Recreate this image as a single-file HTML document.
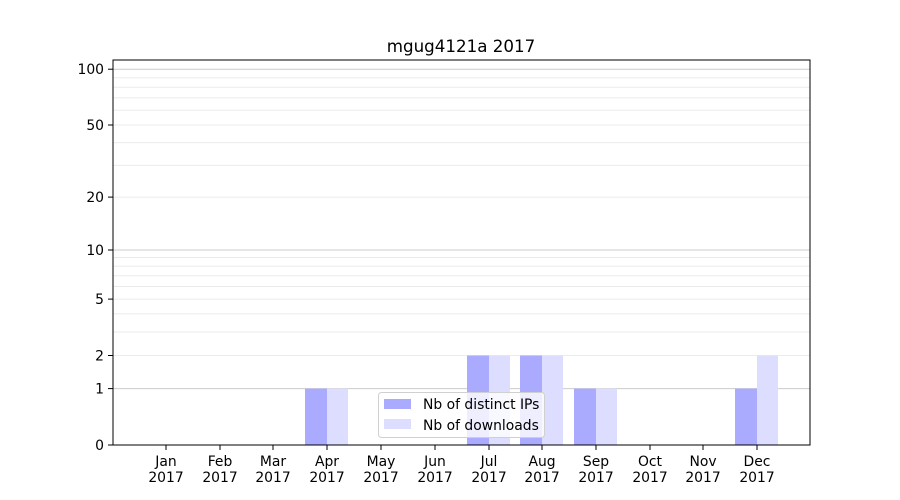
<!DOCTYPE html>
<html><head><style>body{margin:0;background:#fff}svg{display:block;font-family:"DejaVu Sans","Liberation Sans",sans-serif}</style></head>
<body>
<svg width="900" height="500" xmlns="http://www.w3.org/2000/svg">
<rect width="900" height="500" fill="#fff"/>
<g stroke="#ebebeb" stroke-width="1">
<line x1="113" x2="810" y1="355.5" y2="355.5"/><line x1="113" x2="810" y1="332" y2="332"/><line x1="113" x2="810" y1="313.9" y2="313.9"/><line x1="113" x2="810" y1="299.1" y2="299.1"/><line x1="113" x2="810" y1="286.5" y2="286.5"/><line x1="113" x2="810" y1="275.7" y2="275.7"/><line x1="113" x2="810" y1="266.1" y2="266.1"/><line x1="113" x2="810" y1="257.5" y2="257.5"/>
<line x1="113" x2="810" y1="197.1" y2="197.1"/><line x1="113" x2="810" y1="165.4" y2="165.4"/><line x1="113" x2="810" y1="142.6" y2="142.6"/><line x1="113" x2="810" y1="125" y2="125"/><line x1="113" x2="810" y1="110.3" y2="110.3"/><line x1="113" x2="810" y1="97.9" y2="97.9"/><line x1="113" x2="810" y1="87.2" y2="87.2"/><line x1="113" x2="810" y1="77.7" y2="77.7"/>
</g>
<g stroke="#cccccc" stroke-width="1">
<line x1="113" x2="810" y1="388.6" y2="388.6"/><line x1="113" x2="810" y1="250" y2="250"/><line x1="113" x2="810" y1="69.2" y2="69.2"/>
</g>
<g>
<rect x="305" y="388.6" width="22" height="56.4" fill="#aaaaff"/><rect x="327" y="388.6" width="21" height="56.4" fill="#ddddff"/>
<rect x="467" y="355.5" width="22" height="89.5" fill="#aaaaff"/><rect x="489" y="355.5" width="21" height="89.5" fill="#ddddff"/>
<rect x="520" y="355.5" width="22" height="89.5" fill="#aaaaff"/><rect x="542" y="355.5" width="21" height="89.5" fill="#ddddff"/>
<rect x="574" y="388.6" width="22" height="56.4" fill="#aaaaff"/><rect x="596" y="388.6" width="21" height="56.4" fill="#ddddff"/>
<rect x="735" y="388.6" width="22" height="56.4" fill="#aaaaff"/><rect x="757" y="355.5" width="21" height="89.5" fill="#ddddff"/>
</g>
<rect x="113" y="60" width="697" height="385" fill="none" stroke="#000" stroke-width="1"/>
<g stroke="#000"><line x1="108" x2="113" y1="445" y2="445"/><line x1="108" x2="113" y1="388.6" y2="388.6"/><line x1="108" x2="113" y1="355.5" y2="355.5"/><line x1="108" x2="113" y1="299.1" y2="299.1"/><line x1="108" x2="113" y1="250" y2="250"/><line x1="108" x2="113" y1="197.1" y2="197.1"/><line x1="108" x2="113" y1="125" y2="125"/><line x1="108" x2="113" y1="69.2" y2="69.2"/></g>
<g font-size="13.9" text-anchor="end" fill="#000">
<text x="104" y="450">0</text><text x="104" y="393.6">1</text><text x="104" y="360.5">2</text><text x="104" y="304.1">5</text><text x="104" y="255">10</text><text x="104" y="202.1">20</text><text x="104" y="130">50</text><text x="104" y="74.2">100</text>
</g>
<g font-size="13.9" text-anchor="middle" fill="#000" stroke="none">
<g stroke="#000"><line x1="166" x2="166" y1="445" y2="450"/><line x1="220" x2="220" y1="445" y2="450"/><line x1="273" x2="273" y1="445" y2="450"/><line x1="327" x2="327" y1="445" y2="450"/><line x1="381" x2="381" y1="445" y2="450"/><line x1="435" x2="435" y1="445" y2="450"/><line x1="489" x2="489" y1="445" y2="450"/><line x1="542" x2="542" y1="445" y2="450"/><line x1="596" x2="596" y1="445" y2="450"/><line x1="650" x2="650" y1="445" y2="450"/><line x1="703" x2="703" y1="445" y2="450"/><line x1="757" x2="757" y1="445" y2="450"/></g>
<text x="166" y="466">Jan</text><text x="166" y="482">2017</text>
<text x="220" y="466">Feb</text><text x="220" y="482">2017</text>
<text x="273" y="466">Mar</text><text x="273" y="482">2017</text>
<text x="327" y="466">Apr</text><text x="327" y="482">2017</text>
<text x="381" y="466">May</text><text x="381" y="482">2017</text>
<text x="435" y="466">Jun</text><text x="435" y="482">2017</text>
<text x="489" y="466">Jul</text><text x="489" y="482">2017</text>
<text x="542" y="466">Aug</text><text x="542" y="482">2017</text>
<text x="596" y="466">Sep</text><text x="596" y="482">2017</text>
<text x="650" y="466">Oct</text><text x="650" y="482">2017</text>
<text x="703" y="466">Nov</text><text x="703" y="482">2017</text>
<text x="757" y="466">Dec</text><text x="757" y="482">2017</text>
</g>
<text x="461" y="52" font-size="16.7" text-anchor="middle">mgug4121a 2017</text>
<rect x="378.5" y="392.5" width="166" height="45" rx="3" fill="#fff" fill-opacity="0.8" stroke="#d0d0d0"/>
<rect x="384" y="399" width="27" height="10" fill="#aaaaff"/>
<rect x="384" y="419" width="27" height="10" fill="#ddddff"/>
<text x="423" y="409" font-size="13.9">Nb of distinct IPs</text>
<text x="423" y="430" font-size="13.9">Nb of downloads</text>
</svg>
</body></html>
